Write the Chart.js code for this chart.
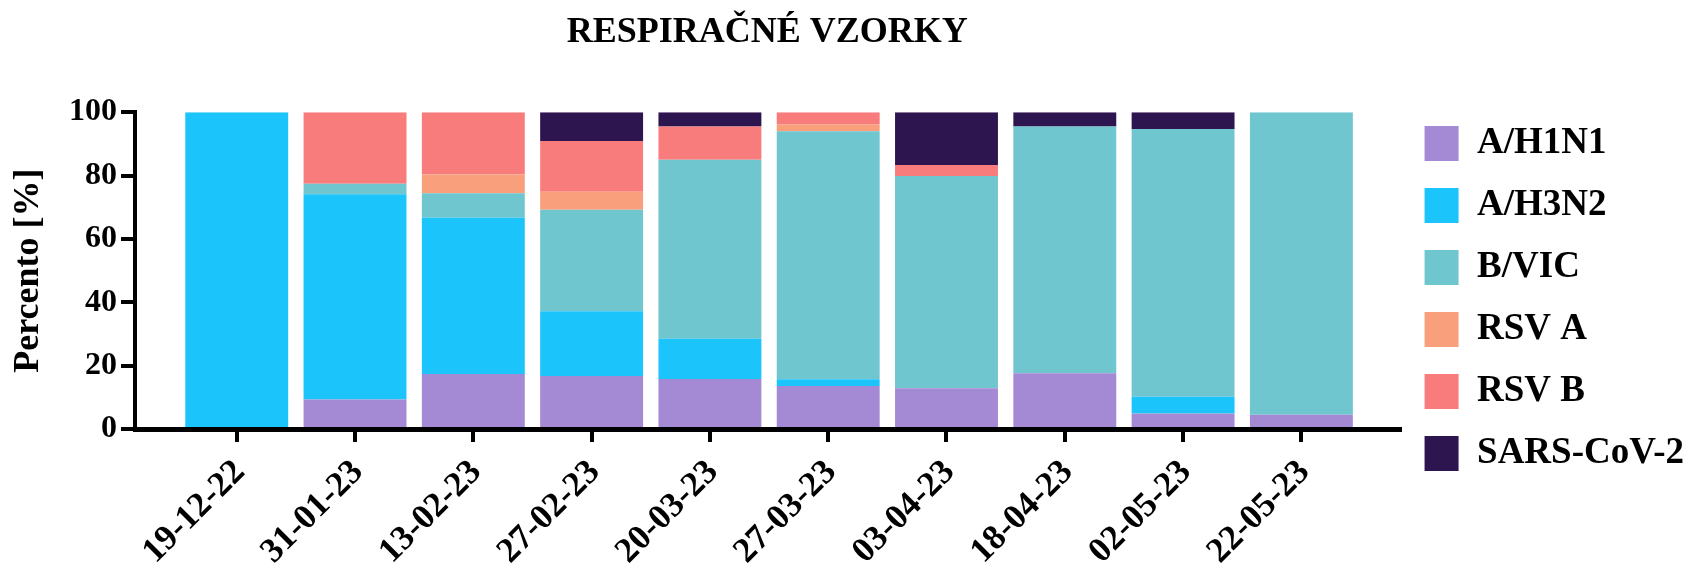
<!DOCTYPE html>
<html>
<head>
<meta charset="utf-8">
<title>Respiračné vzorky</title>
<script src="https://cdn.jsdelivr.net/npm/chart.js@4.4.1/dist/chart.umd.min.js"></script>
<style>
  html, body { margin: 0; padding: 0; background: #fff; }
  #wrap { width: 1702px; height: 568px; }
</style>
</head>
<body>
<div id="wrap"><canvas id="chart" width="1702" height="568"></canvas></div>
<script>
// dates of sampling
const dates = ["19-12-22", "31-01-23", "13-02-23", "27-02-23", "20-03-23",
               "27-03-23", "03-04-23", "18-04-23", "02-05-23", "22-05-23"];

// percent share of each virus per date
const h1n1  = [0,    9.3, 17.4, 16.7, 15.8, 13.6, 12.9, 17.6, 4.9, 4.5];
const h3n2  = [100, 64.8, 49.3, 20.5, 12.7,  2.1,  0,    0,   5.3, 0];
const bvic  = [0,    3.3,  7.7, 32.0, 56.5, 78.3, 67.0, 77.9, 84.5, 95.5];
const rsvA  = [0,    0,    5.9,  5.7,  0,    2.1,  0,    0,   0,   0];
const rsvB  = [0,   22.6, 19.7, 16.0, 10.5,  3.9,  3.4,  0,   0,   0];
const sars  = [0,    0,    0,    9.1,  4.5,  0,   16.7,  4.5, 5.3, 0];

const yTicks = [0, 20, 40, 60, 80, 100];

const seriesNames = ["A/H1N1", "A/H3N2", "B/VIC", "RSV A", "RSV B", "SARS-CoV-2"];
const seriesColors = ["#a48ad4", "#1cc4fc", "#70c6cf", "#f99f7c", "#f97c7d", "#2d1650"];
const seriesData = [h1n1, h3n2, bvic, rsvA, rsvB, sars];

Chart.defaults.font.family = "'Liberation Serif', 'Times New Roman', serif";
Chart.defaults.font.weight = "bold";
Chart.defaults.color = "#000";

const datasets = seriesData.map((vals, k) => ({
  label: seriesNames[k],
  data: vals.map((v, i) => ({ x: i, y: v })),
  backgroundColor: seriesColors[k],
  borderWidth: 0,
  barPercentage: 0.87,
  categoryPercentage: 1.0
}));

const ctx = document.getElementById("chart").getContext("2d");
new Chart(ctx, {
  type: "bar",
  data: { datasets: datasets },
  options: {
    responsive: false,
    animation: false,
    layout: { padding: { left: 0, right: 8, top: 0, bottom: 0 } },
    scales: {
      x: {
        type: "linear",
        stacked: true,
        offset: false,
        min: -0.86,
        max: 9.83,
        afterBuildTicks: (scale) => {
          scale.ticks = dates.map((d, i) => ({ value: i }));
        },
        afterFit: (scale) => {
          scale.height = 139;
          scale.paddingLeft = 0;
          scale.paddingRight = 0;
        },
        grid: { display: true, offset: false, drawOnChartArea: false, drawTicks: true, tickLength: 13, color: "#000", lineWidth: 4 },
        border: { display: true, color: "#000", width: 5 },
        ticks: {
          autoSkip: false,
          minRotation: 45,
          maxRotation: 45,
          padding: 10,
          labelOffset: 3,
          font: { size: 35, weight: "bold" },
          callback: (v) => dates[v]
        }
      },
      y: {
        stacked: true,
        min: 0,
        max: 100,
        afterBuildTicks: (scale) => {
          scale.ticks = yTicks.map(v => ({ value: v }));
        },
        afterFit: (scale) => { scale.width = 135; },
        grid: { display: true, drawOnChartArea: false, drawTicks: true, tickLength: 14, color: "#000", lineWidth: 4 },
        border: { display: true, color: "#000", width: 4 },
        ticks: { padding: 4, font: { size: 32, weight: "bold" } },
        title: {
          display: true,
          text: "Percento [%]",
          font: { size: 36, weight: "bold" },
          padding: { top: 7, bottom: 0 }
        }
      }
    },
    plugins: {
      title: {
        display: true,
        text: "RESPIRAČNÉ VZORKY",
        fullSize: false,
        font: { size: 36, weight: "bold" },
        padding: { top: 11, bottom: 58 }
      },
      legend: {
        position: "right",
        align: "start",
        title: { display: true, text: " ", font: { size: 10 }, padding: { top: 88, bottom: 0 } },
        labels: {
          boxWidth: 34,
          boxHeight: 35,
          padding: 25,
          font: { size: 37, weight: "bold" },
          color: "#000"
        }
      },
      tooltip: { enabled: false }
    }
  }
});
</script>
</body>
</html>
